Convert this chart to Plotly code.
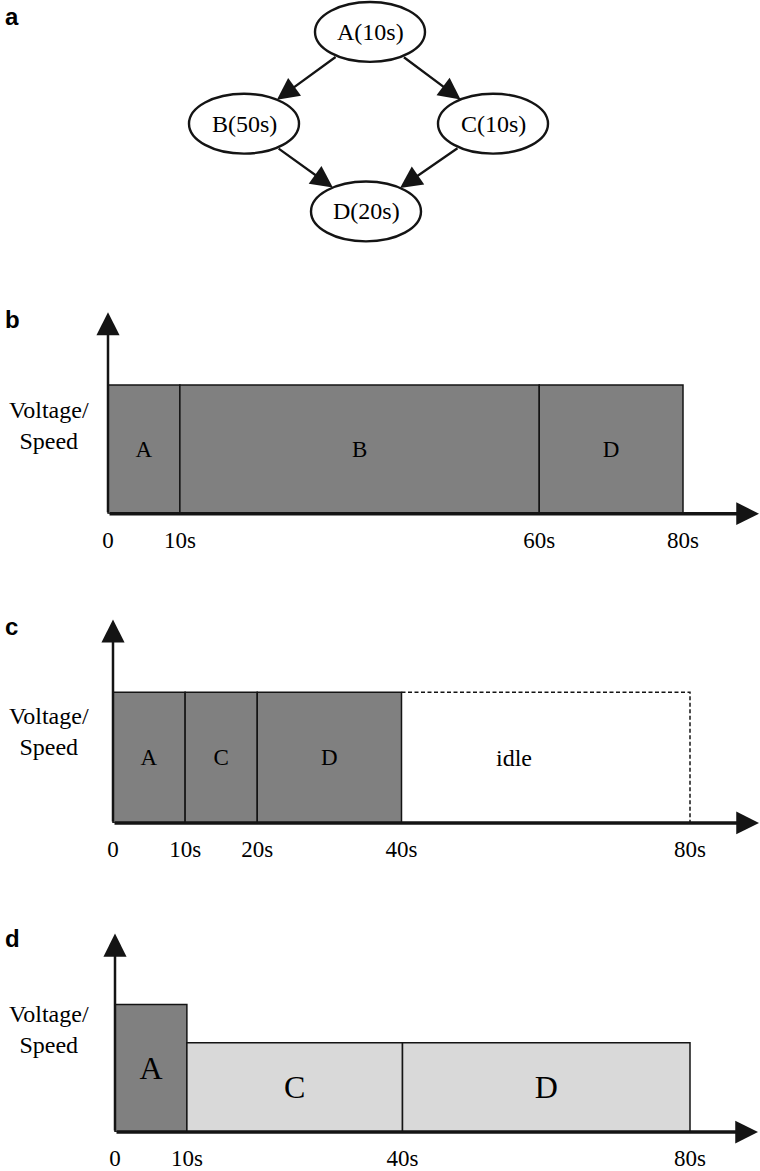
import math
import plotly.graph_objects as go

W, H = 760, 1171

# ---------------- data ----------------
dag_nodes = ["A", "B", "C", "D"]
dag_durations = [10, 50, 10, 20]
dag_edges = [("A", "B"), ("A", "C"), ("B", "D"), ("C", "D")]

b_tasks = ["A", "B", "D"]
b_start = [0, 10, 60]
b_end = [10, 60, 80]
b_level = [1.0, 1.0, 1.0]

c_tasks = ["A", "C", "D"]
c_start = [0, 10, 20]
c_end = [10, 20, 40]
c_level = [1.0, 1.0, 1.0]
c_idle_start = [40]
c_idle_end = [80]
c_idle_label = ["idle"]

d_tasks = ["A", "C", "D"]
d_start = [0, 10, 40]
d_end = [10, 40, 80]
d_level = [1.0, 0.7, 0.7]

y_label = "Voltage/<br>Speed"
panel_letters = ["a", "b", "c", "d"]

# ---------------- layout / style ----------------
SERIF = "Liberation Serif"
SANS = "Liberation Sans"
DARK = "#808080"
LIGHT = "#d9d9d9"
INK = "#141414"

fig = go.Figure()
shapes = []
annotations = []
layout_axes = {}

# ---- panel a: task graph (pixel-like coordinates) ----
node_px = {"A": (370, 32), "B": (244, 124), "C": (493, 124), "D": (366, 212)}
RX, RY = 55, 30
A_H = 270
layout_axes["xaxis"] = dict(domain=[0, 1], range=[0, W], visible=False, fixedrange=True)
layout_axes["yaxis"] = dict(domain=[1 - A_H / H, 1], range=[A_H, 0], visible=False, fixedrange=True)

for name, dur in zip(dag_nodes, dag_durations):
    cx, cy = node_px[name]
    shapes.append(dict(type="circle", xref="x", yref="y", x0=cx - RX, x1=cx + RX,
                       y0=cy - RY, y1=cy + RY, line=dict(color=INK, width=2.4),
                       fillcolor="white", layer="above"))
    annotations.append(dict(x=cx, y=cy, xref="x", yref="y", text=f"{name}({dur}s)",
                            showarrow=False, font=dict(family=SERIF, size=24, color="black")))


def ell_t(dx, dy):
    return 1.0 / math.sqrt((dx / RX) ** 2 + (dy / RY) ** 2)


for u, v in dag_edges:
    ux, uy = node_px[u]
    vx, vy = node_px[v]
    dx, dy = vx - ux, vy - uy
    t = ell_t(dx, dy)
    sx, sy = ux + dx * t, uy + dy * t
    ex, ey = vx - dx * t, vy - dy * t
    annotations.append(dict(x=ex, y=ey, ax=sx, ay=sy, xref="x", yref="y", axref="x", ayref="y",
                            text="", showarrow=True, arrowhead=2, arrowsize=1.9,
                            arrowwidth=2.3, arrowcolor=INK))

# ---- schedule panels ----
panels = [
    dict(idx=2, tasks=b_tasks, start=b_start, end=b_end, level=b_level,
         x0=108, x80=683, yax=515, ytop=298, ky=129, tipx=759, tipy=313,
         lab_y=427, letter_y=320, tsize=23),
    dict(idx=3, tasks=c_tasks, start=c_start, end=c_end, level=c_level,
         x0=113, x80=690, yax=825, ytop=606, ky=131, tipx=759, tipy=621,
         lab_y=733, letter_y=628, tsize=23),
    dict(idx=4, tasks=d_tasks, start=d_start, end=d_end, level=d_level,
         x0=115, x80=690, yax=1135, ytop=922, ky=128, tipx=758, tipy=936,
         lab_y=1032, letter_y=941, tsize=32),
]

for letter, p in zip(panel_letters[1:], panels):
    i = p["idx"]
    xa, ya = f"x{i}", f"y{i}"
    extra_end = c_idle_end if i == 3 else []
    tmax = max(p["end"] + extra_end)
    kx = (p["x80"] - p["x0"]) / tmax
    xr = [-p["x0"] / kx, (W - p["x0"]) / kx]
    yr = [0, (p["yax"] - p["ytop"]) / p["ky"]]
    ticks = sorted(set(p["start"] + p["end"] + extra_end))
    layout_axes[f"xaxis{i}"] = dict(
        domain=[0, 1], range=xr, anchor=ya, showgrid=False, zeroline=False, showline=False,
        tickmode="array", tickvals=ticks,
        ticktext=["0" if v == 0 else f"{v}s" for v in ticks],
        ticks="", ticklabelstandoff=10,
        tickfont=dict(family=SERIF, size=23, color="black"), fixedrange=True)
    layout_axes[f"yaxis{i}"] = dict(
        domain=[1 - p["yax"] / H, 1 - p["ytop"] / H], range=yr, anchor=xa,
        showgrid=False, zeroline=False, showline=False, showticklabels=False, fixedrange=True)

    mids = [(s + e) / 2 for s, e in zip(p["start"], p["end"])]
    widths = [e - s for s, e in zip(p["start"], p["end"])]
    colors = [DARK if lv >= 1.0 else LIGHT for lv in p["level"]]
    fig.add_trace(go.Bar(
        x=mids, y=p["level"], width=widths, xaxis=xa, yaxis=ya,
        marker=dict(color=colors, line=dict(color=INK, width=1.5)),
        text=p["tasks"], textposition="inside", insidetextanchor="middle",
        textangle=0, constraintext="none", cliponaxis=False,
        textfont=dict(family=SERIF, size=p["tsize"], color="black"),
        hoverinfo="skip", showlegend=False))

    if i == 3:
        for s, e, lab in zip(c_idle_start, c_idle_end, c_idle_label):
            lv = c_level[-1]
            fig.add_trace(go.Scatter(
                x=[s, e, e], y=[lv, lv, 0], xaxis=xa, yaxis=ya, mode="lines",
                line=dict(color=INK, width=1.5, dash="4px,2.5px"),
                hoverinfo="skip", showlegend=False))
            annotations.append(dict(x=(s + e) / 2, y=lv / 2, xref=xa, yref=ya, text=lab,
                                    xshift=-32, showarrow=False,
                                    font=dict(family=SERIF, size=24, color="black")))

    # axis arrows
    annotations.append(dict(x=(p["tipx"] - p["x0"]) / kx, y=0, ax=0, ay=0,
                            xref=xa, yref=ya, axref=xa, ayref=ya, text="", showarrow=True,
                            arrowhead=2, arrowsize=1.3, arrowwidth=3.5, arrowcolor=INK))
    annotations.append(dict(x=0, y=(p["yax"] - p["tipy"]) / p["ky"], ax=0, ay=0,
                            xref=xa, yref=ya, axref=xa, ayref=ya, text="", showarrow=True,
                            arrowhead=2, arrowsize=1.85, arrowwidth=2.5, arrowcolor=INK))

    # y-axis label
    annotations.append(dict(x=49 / W, y=1 - p["lab_y"] / H, xref="paper", yref="paper",
                            text=y_label, showarrow=False, xanchor="center", yanchor="middle",
                            font=dict(family=SERIF, size=24, color="black")))
    # panel letter
    annotations.append(dict(x=3 / W, y=1 - p["letter_y"] / H, xref="paper", yref="paper",
                            text=f"<b>{letter}</b>", showarrow=False, xanchor="left",
                            yanchor="middle", font=dict(family=SANS, size=24, color="black")))

annotations.append(dict(x=3 / W, y=1 - 17 / H, xref="paper", yref="paper",
                        text=f"<b>{panel_letters[0]}</b>", showarrow=False, xanchor="left",
                        yanchor="middle", font=dict(family=SANS, size=24, color="black")))

fig.update_layout(
    width=W, height=H, margin=dict(l=0, r=0, t=0, b=0, pad=0),
    paper_bgcolor="white", plot_bgcolor="white", showlegend=False,
    shapes=shapes, annotations=annotations, **layout_axes)

fig.write_html("out.html", config={"displayModeBar": False})
